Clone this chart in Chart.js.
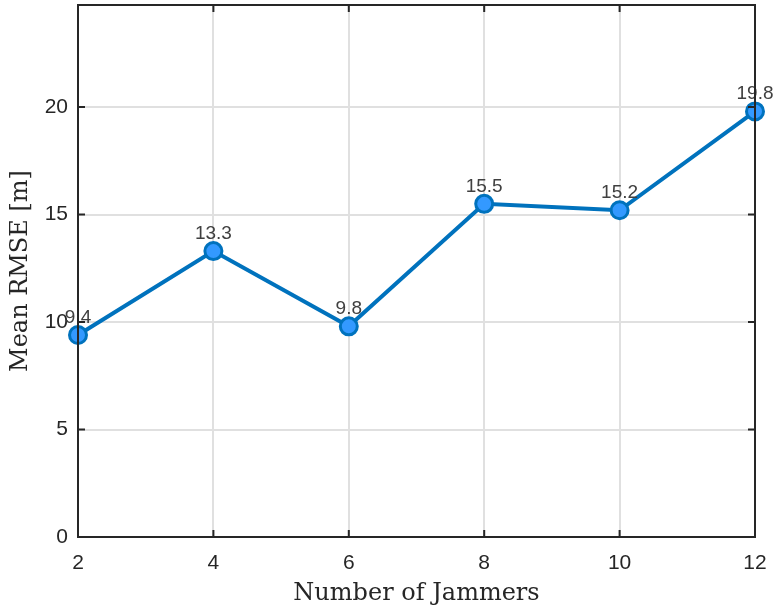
<!DOCTYPE html>
<html>
<head>
<meta charset="utf-8">
<script src="https://cdn.jsdelivr.net/npm/chart.js@4/dist/chart.umd.min.js"></script>
<style>
  html, body { margin: 0; padding: 0; background: #fff; }
  #wrap { width: 781px; height: 608px; }
</style>
</head>
<body>
<div id="wrap"><canvas id="rmseChart" width="781" height="608"></canvas></div>
<script>
// data
const jammers = [2, 4, 6, 8, 10, 12];
const meanRmse = [9.4, 13.3, 9.8, 15.5, 15.2, 19.8];
const xTicks = [2, 4, 6, 8, 10, 12];
const yTicks = [0, 5, 10, 15, 20];

const axisColor = '#262626';
const lineColor = '#0072BD';

// box around the axes + inward tick marks (MATLAB look)
const boxPlugin = {
    id: 'box',
    afterDraw(chart) {
        const { ctx, chartArea: a, scales } = chart;
        ctx.save();
        ctx.strokeStyle = axisColor;
        ctx.lineWidth = 2;
        ctx.strokeRect(a.left, a.top, a.right - a.left, a.bottom - a.top);
        const len = 7;
        ctx.beginPath();
        xTicks.forEach(v => {
            const x = scales.x.getPixelForValue(v);
            ctx.moveTo(x, a.bottom); ctx.lineTo(x, a.bottom - len);
            ctx.moveTo(x, a.top); ctx.lineTo(x, a.top + len);
        });
        yTicks.forEach(v => {
            const y = scales.y.getPixelForValue(v);
            ctx.moveTo(a.left, y); ctx.lineTo(a.left + len, y);
            ctx.moveTo(a.right, y); ctx.lineTo(a.right - len, y);
        });
        ctx.stroke();
        ctx.restore();
    }
};

// value labels above each marker
const labelPlugin = {
    id: 'valueLabels',
    afterDatasetsDraw(chart) {
        const { ctx } = chart;
        const meta = chart.getDatasetMeta(0);
        ctx.save();
        ctx.font = '19px "Liberation Sans", Arial, sans-serif';
        ctx.fillStyle = '#404040';
        ctx.textAlign = 'center';
        ctx.textBaseline = 'alphabetic';
        meta.data.forEach((pt, i) => {
            ctx.fillText(meanRmse[i].toFixed(1), pt.x, pt.y - 12);
        });
        ctx.restore();
    }
};

const ctx = document.getElementById('rmseChart').getContext('2d');
new Chart(ctx, {
    type: 'line',
    data: {
        datasets: [{
            data: jammers.map((x, i) => ({ x: x, y: meanRmse[i] })),
            borderColor: lineColor,
            borderWidth: 4,
            pointRadius: 8.5,
            pointBorderWidth: 3,
            pointBackgroundColor: '#3399FF',
            pointBorderColor: lineColor,
            tension: 0,
            clip: false
        }]
    },
    options: {
        responsive: false,
        animation: false,
        layout: { autoPadding: false, padding: { top: 5, right: 26, left: 0, bottom: 0 } },
        plugins: {
            legend: { display: false },
            tooltip: { enabled: false }
        },
        scales: {
            x: {
                type: 'linear',
                min: 2, max: 12,
                afterBuildTicks: s => { s.ticks = xTicks.map(v => ({ value: v })); },
                afterFit: s => { s.height = 71; s.paddingLeft = 0; s.paddingRight = 0; },
                grid: { color: '#e0e0e0', lineWidth: 2, drawTicks: false },
                border: { display: false },
                ticks: {
                    color: axisColor, padding: 14,
                    font: { family: '"Liberation Sans", Arial, sans-serif', size: 21 }
                },
                title: {
                    display: true, text: 'Number of Jammers', color: axisColor,
                    padding: { top: 0, bottom: 0 },
                    font: { family: '"DejaVu Serif", serif', size: 24 }
                }
            },
            y: {
                min: 0, max: 24.75,
                afterBuildTicks: s => { s.ticks = yTicks.map(v => ({ value: v })); },
                afterFit: s => { s.width = 78; s.paddingTop = 0; s.paddingBottom = 0; },
                grid: { color: '#e0e0e0', lineWidth: 2, drawTicks: false },
                border: { display: false },
                ticks: {
                    color: axisColor, padding: 10,
                    font: { family: '"Liberation Sans", Arial, sans-serif', size: 21 }
                },
                title: {
                    display: true, text: 'Mean RMSE [m]', color: axisColor,
                    padding: { top: 6, bottom: 0 },
                    font: { family: '"DejaVu Serif", serif', size: 24 }
                }
            }
        }
    },
    plugins: [boxPlugin, labelPlugin]
});
</script>
</body>
</html>
